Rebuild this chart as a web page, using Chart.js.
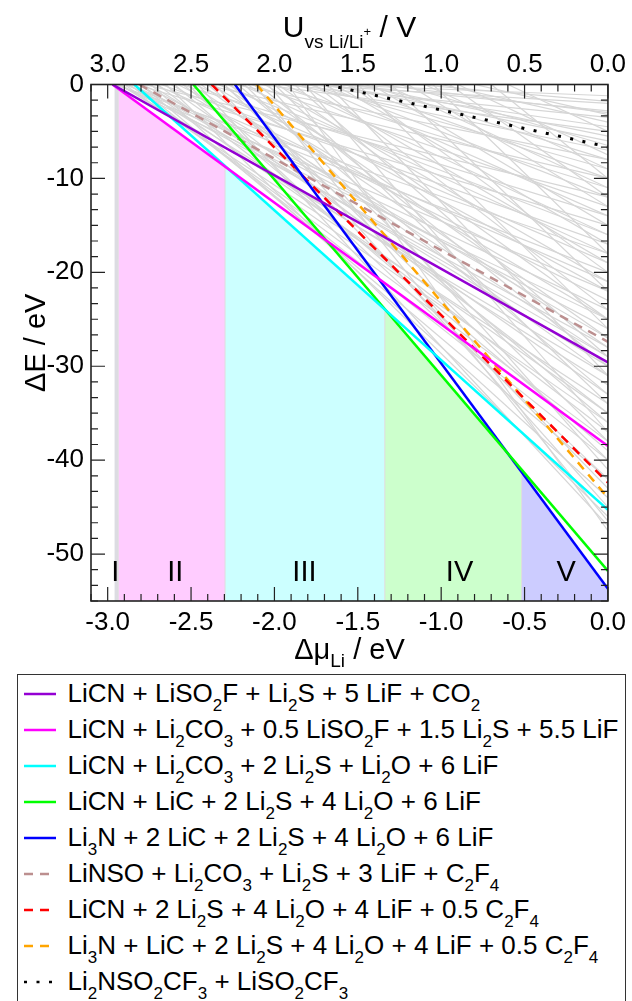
<!DOCTYPE html>
<html>
<head>
    <title>Reaction energies vs Li chemical potential</title>
    <meta charset="UTF-8">
    <style>
        body { margin: 0; background: #fff; font-family: "Liberation Sans", Arial, sans-serif; }
        .wrap { position: relative; width: 632px; height: 1001px; overflow: hidden; }
        #chart { position: absolute; left: 0; top: 0; }
        #legend { position: absolute; left: 16.5px; top: 673.5px; width: 609px; height: 345px;
                  border: 1.5px solid #333; box-sizing: border-box; }
        .row { position: absolute; left: 0; height: 36px; width: 600px; }
        .row svg { position: absolute; left: 5px; top: 0; }
        .row span { position: absolute; left: 50px; top: 0; font-size: 26px; line-height: 36px; white-space: nowrap; color: #000; }
        .row sub { font-size: 17px; vertical-align: -9px; line-height: 0; }
    </style>
    <script src="https://cdn.jsdelivr.net/npm/chart.js@4/dist/chart.umd.min.js"></script>
</head>
<body>
    <div class="wrap">
        <canvas id="chart" width="632" height="670"></canvas>
        <div id="legend"></div>
    </div>

    <script>
        // highlighted reactions
        const seriesLabels = [
            'LiCN + LiSO<sub>2</sub>F + Li<sub>2</sub>S + 5 LiF + CO<sub>2</sub>',
            'LiCN + Li<sub>2</sub>CO<sub>3</sub> + 0.5 LiSO<sub>2</sub>F + 1.5 Li<sub>2</sub>S + 5.5 LiF',
            'LiCN + Li<sub>2</sub>CO<sub>3</sub> + 2 Li<sub>2</sub>S + Li<sub>2</sub>O + 6 LiF',
            'LiCN + LiC + 2 Li<sub>2</sub>S + 4 Li<sub>2</sub>O + 6 LiF',
            'Li<sub>3</sub>N + 2 LiC + 2 Li<sub>2</sub>S + 4 Li<sub>2</sub>O + 6 LiF',
            'LiNSO + Li<sub>2</sub>CO<sub>3</sub> + Li<sub>2</sub>S + 3 LiF + C<sub>2</sub>F<sub>4</sub>',
            'LiCN + 2 Li<sub>2</sub>S + 4 Li<sub>2</sub>O + 4 LiF + 0.5 C<sub>2</sub>F<sub>4</sub>',
            'Li<sub>3</sub>N + LiC + 2 Li<sub>2</sub>S + 4 Li<sub>2</sub>O + 4 LiF + 0.5 C<sub>2</sub>F<sub>4</sub>',
            'Li<sub>2</sub>NSO<sub>2</sub>CF<sub>3</sub> + LiSO<sub>2</sub>CF<sub>3</sub>'
        ];
        // where each line leaves dE = 0, and its value at dmu = 0
        const seriesStartX = [-2.971, -2.971, -2.84, -2.486, -2.237, -2.81, -2.376, -2.107, -1.69];
        const seriesEndY = [-29.6, -38.5, -45.3, -51.8, -53.7, -27.4, -42.4, -44.0, -6.65];
        const seriesColors = ['#9400d3', '#ff00ff', '#00ffff', '#00ff00', '#0000ff', '#bc8f8f', '#ff0000', '#ffa500', '#000000'];
        const seriesDash = [[], [], [], [], [], [9, 7], [9, 7], [9, 7], [3, 9.5]];

        // all other candidate reactions (grey)
        const greyStartX = [
            -2.96, -2.95, -2.94, -2.93, -2.92, -2.9, -2.9, -2.88, -2.87, -2.86, -2.85, -2.84, -2.83, -2.82, -2.8, -2.8, -2.79, -2.78,
            -2.75, -2.74, -2.72, -2.7, -2.68, -2.66, -2.65, -2.62, -2.6, -2.58, -2.56, -2.55, -2.52, -2.5, -2.48, -2.46, -2.44, -2.42,
            -2.4, -2.38, -2.36, -2.34, -2.32, -2.3,
            -2.28, -2.26, -2.24, -2.22, -2.2, -2.18, -2.16, -2.14, -2.12, -2.1, -2.08, -2.06, -2.04, -2.02, -2.0, -1.98, -1.96, -1.94,
            -1.92, -1.9, -1.88, -1.86, -1.84, -1.82, -1.8, -1.78, -1.76, -1.74, -1.72, -1.7, -1.68, -1.66, -1.64, -1.62,
            -1.58, -1.55, -1.52, -1.5, -1.46, -1.42, -1.38, -1.34, -1.3, -1.25, -1.2, -1.15, -1.1, -1.05, -1.0, -0.95, -0.9, -0.8, -0.7, -0.6
        ];
        const greyEndY = [
            -18, -22, -25, -31, -34, -36, -20, -28, -38, -24, -32, -40, -15, -29, -35, -42, -26, -12,
            -30, -44, -21, -37, -17, -33, -46, -27, -39, -23, -14, -35, -42, -29, -19, -47, -31, -10,
            -36, -25, -43, -16, -28, -40,
            -22, -45, -8, -33, -18, -38, -27, -13, -46.5, -30, -5, -21, -41, -11, -34, -25, -3.5, -16,
            -47.5, -7, -29, -2, -19, -37, -9, -14, -24, -4.5, -12, -1.2, -31, -6, -17, -2.8,
            -10, -20, -5.5, -26, -8, -15, -3, -11, -22, -6.5, -13, -1.8, -9, -18, -4, -12, -7.5, -3.2, -10, -5
        ];

        // stability regions: boundaries and the reaction that is lowest in each
        const regionNames = ['I', 'II', 'III', 'IV', 'V'];
        const regionBounds = [-2.96, -2.937, -2.296, -1.338, -0.518, 0];
        const regionLowest = [1, 1, 2, 3, 4];
        const regionColors = ['#dcdce2', '#ffccff', '#ccffff', '#ccffcc', '#ccccff'];
        const regionLabelX = [-2.955, -2.595, -1.82, -0.89, -0.25];

        const xTickValues = [-3.0, -2.5, -2.0, -1.5, -1.0, -0.5, 0.0];
        const yTickValues = [0, -10, -20, -30, -40, -50];

        const FONT = '"Liberation Sans", Arial, sans-serif';
        Chart.defaults.font.family = FONT;
        Chart.defaults.color = '#000';

        function lineY(i, x) {
            return seriesEndY[i] * (x - seriesStartX[i]) / (0 - seriesStartX[i]);
        }
        function plainLabel(s) { return s.replace(/<\/?sub>/g, ''); }

        const datasets = [];

        seriesLabels.forEach((lab, i) => {
            datasets.push({
                label: plainLabel(lab),
                data: [{ x: seriesStartX[i], y: 0 }, { x: 0, y: seriesEndY[i] }],
                borderColor: seriesColors[i],
                borderDash: seriesDash[i],
                borderWidth: i === 8 ? 3 : 2.5,
                fill: false,
                order: 1 + i
            });
        });

        greyStartX.forEach((sx, i) => {
            datasets.push({
                label: 'other',
                data: [{ x: sx, y: 0 }, { x: 0, y: greyEndY[i] }],
                borderColor: '#d6d6d6',
                borderWidth: 1.2,
                fill: false,
                order: 20
            });
        });

        regionNames.forEach((nm, k) => {
            const a = regionBounds[k], b = regionBounds[k + 1], li = regionLowest[k];
            datasets.push({
                label: 'region ' + nm,
                data: [{ x: a, y: lineY(li, a) }, { x: b, y: lineY(li, b) }],
                borderWidth: 0,
                borderColor: 'rgba(0,0,0,0)',
                backgroundColor: regionColors[k],
                fill: 'start',
                order: 30
            });
            // thin separator at the region edge
            datasets.push({
                label: 'edge',
                data: [{ x: b, y: -55 }, { x: b, y: lineY(li, b) }],
                borderColor: '#dddddd',
                borderWidth: 1,
                fill: false,
                order: 25
            });
        });

        // rich text with sub/superscripts, parts: [text, size, dy]
        function drawRich(ctx, parts, x, y) {
            let w = 0;
            parts.forEach(p => { ctx.font = p[1] + 'px ' + FONT; w += ctx.measureText(p[0]).width; });
            let cx = x - w / 2;
            ctx.textAlign = 'left';
            ctx.textBaseline = 'alphabetic';
            parts.forEach(p => {
                ctx.font = p[1] + 'px ' + FONT;
                ctx.fillText(p[0], cx, y + p[2]);
                cx += ctx.measureText(p[0]).width;
            });
        }

        const framePlugin = {
            id: 'frame',
            afterDatasetsDraw(chart) {
                const { ctx, chartArea: a, scales } = chart;
                const x = scales.x, y = scales.y;
                ctx.save();
                ctx.strokeStyle = '#222';
                ctx.lineWidth = 1.2;
                ctx.beginPath();
                for (let k = -31; k <= 0; k++) {
                    const px = x.getPixelForValue(k / 10);
                    const len = k % 5 === 0 ? 14 : 7;
                    ctx.moveTo(px, a.bottom); ctx.lineTo(px, a.bottom - len);
                    ctx.moveTo(px, a.top); ctx.lineTo(px, a.top + len);
                }
                for (let k = 0; k <= 33; k++) {
                    const py = y.getPixelForValue(-k * 10 / 6);
                    const len = k % 6 === 0 ? 14 : 7;
                    ctx.moveTo(a.left, py); ctx.lineTo(a.left + len, py);
                    ctx.moveTo(a.right, py); ctx.lineTo(a.right - len, py);
                }
                ctx.stroke();
                ctx.lineWidth = 1.6;
                ctx.strokeRect(a.left, a.top, a.right - a.left, a.bottom - a.top);

                // region numerals
                ctx.fillStyle = '#000';
                ctx.font = '29px ' + FONT;
                ctx.textAlign = 'center';
                ctx.textBaseline = 'alphabetic';
                regionNames.forEach((nm, k) => {
                    ctx.fillText(nm, x.getPixelForValue(regionLabelX[k]), y.getPixelForValue(-52.9));
                });

                // axis titles
                const midX = (a.left + a.right) / 2;
                drawRich(ctx, [['Δμ', 29, 0], ['Li', 19, 8], [' / eV', 29, 0]], midX, 659);
                drawRich(ctx, [['U', 30, 0], ['vs Li/Li', 19, 11], ['+', 13, -1], [' / V', 30, 0]], midX, 37);
                ctx.save();
                ctx.translate(45, (a.top + a.bottom) / 2);
                ctx.rotate(-Math.PI / 2);
                drawRich(ctx, [['ΔE / eV', 29, 0]], 0, 0);
                ctx.restore();
                ctx.restore();
            }
        };

        new Chart(document.getElementById('chart'), {
            type: 'line',
            data: { datasets: datasets },
            options: {
                responsive: false,
                animation: false,
                layout: { padding: { left: 0, right: 24, top: 0, bottom: 0 } },
                plugins: { legend: { display: false }, tooltip: { enabled: false } },
                elements: { point: { radius: 0 }, line: { tension: 0 } },
                scales: {
                    x: {
                        type: 'linear', position: 'bottom', min: -3.1, max: 0,
                        grid: { display: false, drawTicks: false }, border: { display: false },
                        afterBuildTicks: s => { s.ticks = xTickValues.map(v => ({ value: v })); },
                        afterFit: s => { s.height = 69; },
                        ticks: { font: { size: 26 }, padding: 6, maxRotation: 0, autoSkip: false,
                                 callback: v => v.toFixed(1) }
                    },
                    x2: {
                        type: 'linear', position: 'top', min: -3.1, max: 0,
                        grid: { display: false, drawTicks: false }, border: { display: false },
                        afterBuildTicks: s => { s.ticks = xTickValues.map(v => ({ value: v })); },
                        afterFit: s => { s.height = 84.5; },
                        ticks: { font: { size: 26 }, padding: 4, maxRotation: 0, autoSkip: false,
                                 callback: v => Math.abs(v).toFixed(1) }
                    },
                    y: {
                        type: 'linear', min: -55, max: 0,
                        grid: { display: false, drawTicks: false }, border: { display: false },
                        afterBuildTicks: s => { s.ticks = yTickValues.map(v => ({ value: v })); },
                        afterFit: s => { s.width = 91; },
                        ticks: { font: { size: 26 }, padding: 7, callback: v => String(v) }
                    }
                }
            },
            plugins: [framePlugin]
        });

        // legend below the plot
        const legend = document.getElementById('legend');
        seriesLabels.forEach((lab, i) => {
            const row = document.createElement('div');
            row.className = 'row';
            row.style.top = (i * 36.1) + 'px';
            const dash = seriesDash[i].length ? seriesDash[i].join(' ') : 'none';
            row.innerHTML =
                '<svg width="36" height="36"><line x1="1" y1="19" x2="33" y2="19" stroke="' + seriesColors[i] +
                '" stroke-width="2.5" stroke-dasharray="' + dash + '"/></svg>' +
                '<span>' + lab + '</span>';
            legend.appendChild(row);
        });
    </script>
</body>
</html>
